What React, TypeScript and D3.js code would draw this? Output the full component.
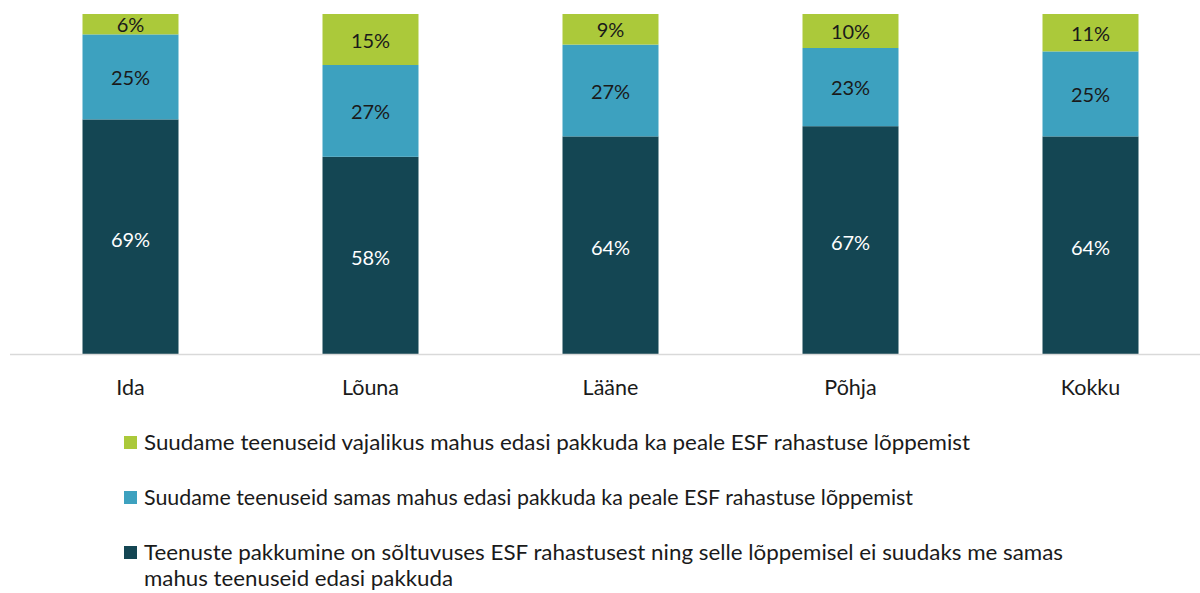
import React from 'react';
import * as d3 from 'd3';

const categories = ['Ida', 'Lõuna', 'Lääne', 'Põhja', 'Kokku'];
const dependent = [69, 58, 64, 67, 64];
const sameVolume = [25, 27, 27, 23, 25];
const neededVolume = [6, 15, 9, 10, 11];

const seriesKeys = ['dependent', 'sameVolume', 'neededVolume'];
const seriesColors = ['#144653', '#3da1bf', '#abc93a'];
const labelColors = ['#ffffff', '#1a1a1a', '#1a1a1a'];
const legendLines = [
  ['Suudame teenuseid vajalikus mahus edasi pakkuda ka peale ESF rahastuse lõppemist'],
  ['Suudame teenuseid samas mahus edasi pakkuda ka peale ESF rahastuse lõppemist'],
  [
    'Teenuste pakkumine on sõltuvuses ESF rahastusest ning selle lõppemisel ei suudaks me samas',
    'mahus teenuseid edasi pakkuda',
  ],
];
// measured line widths in the source
const legendWidths = [[826], [769], [919, 309]];
const legendColors = ['#abc93a', '#3da1bf', '#144653'];

const W = 1200;
const H = 593;
const font = 'Lato, "Noto Sans", sans-serif';

export default function App() {
  const rows = categories.map((c, i) => ({
    cat: c,
    dependent: dependent[i],
    sameVolume: sameVolume[i],
    neededVolume: neededVolume[i],
  }));
  const stack = d3.stack<any>().keys(seriesKeys)(rows);

  const x = d3
    .scaleBand()
    .domain(categories)
    .range([10.5, 1210.5])
    .paddingInner(0.6)
    .paddingOuter(0.3);
  const y = d3.scaleLinear().domain([0, 100]).range([354, 14]);

  return (
    <svg
      width={W}
      height={H}
      style={{ position: 'absolute', left: 0, top: 0, background: '#fff' }}
      fontFamily={font}
    >
      {stack.map((s, si) => (
        <g key={s.key}>
          {s.map((d, i) => {
            const x0 = x(categories[i])!;
            const y0 = y(d[1]);
            const h = y(d[0]) - y(d[1]);
            return (
              <g key={i}>
                <rect x={x0} y={y0} width={x.bandwidth()} height={h} fill={seriesColors[si]} />
                <text
                  x={x0 + x.bandwidth() / 2}
                  y={y0 + h / 2 + (si === 0 ? 3 : 1)}
                  dy="0.35em"
                  textAnchor="middle"
                  fontSize={20}
                  fill={labelColors[si]}
                >
                  {d[1] - d[0]}%
                </text>
              </g>
            );
          })}
        </g>
      ))}
      <line x1={10} x2={1200} y1={354.5} y2={354.5} stroke="#d9d9d9" strokeWidth={1.5} />
      {categories.map((c) => (
        <text
          key={c}
          x={x(c)! + x.bandwidth() / 2}
          y={387}
          dy="0.35em"
          textAnchor="middle"
          fontSize={21.5}
          fill="#1a1a1a"
        >
          {c}
        </text>
      ))}
      {legendLines.map((lines, i) => {
        const cy = 443 + i * 55;
        return (
          <g key={i}>
            <rect x={124} y={cy - 7} width={13} height={13} fill={legendColors[i]} />
            {lines.map((t, j) => (
              <text
                key={j}
                x={144}
                y={cy + j * 26}
                dy="0.35em"
                fontSize={21}
                fill="#1a1a1a"
                textLength={legendWidths[i][j]}
                lengthAdjust="spacingAndGlyphs"
              >
                {t}
              </text>
            ))}
          </g>
        );
      })}
    </svg>
  );
}
